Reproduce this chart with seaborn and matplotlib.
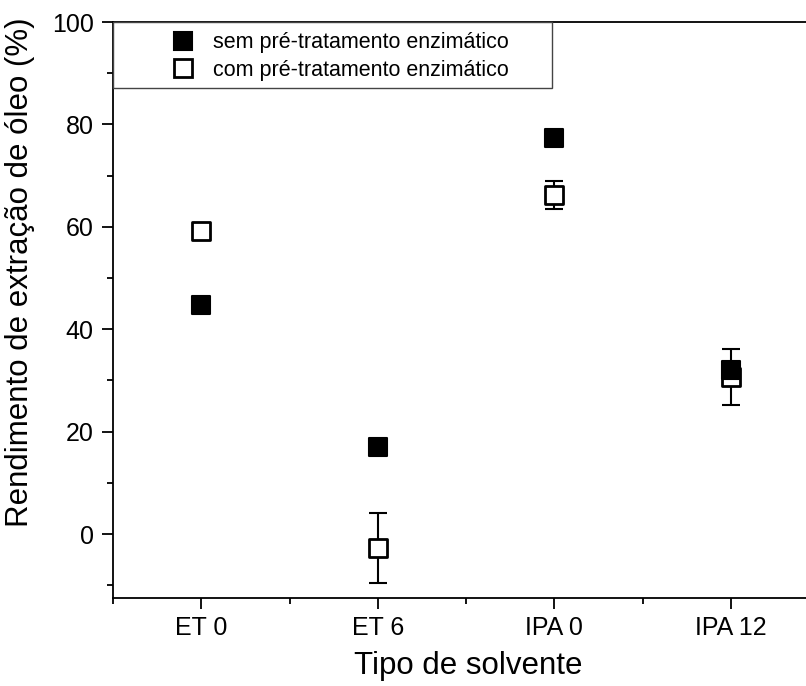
import numpy as np
import pandas as pd
import matplotlib
matplotlib.use("Agg")
import matplotlib.pyplot as plt
import seaborn as sns
from matplotlib.lines import Line2D
from matplotlib.patches import Rectangle
from matplotlib.ticker import MultipleLocator

# Oil extraction yield (%) per solvent, without / with enzymatic pre-treatment
solvents = ["ET 0", "ET 6", "IPA 0", "IPA 12"]
sem_mean = [44.8, 16.9, 77.3, 32.0]
sem_err = [0.8, 0.8, 1.5, 1.0]
com_mean = [59.2, -2.7, 66.2, 30.6]
com_err = [0.5, 6.8, 2.8, 5.5]
series_labels = ["sem pré-tratamento enzimático", "com pré-tratamento enzimático"]

sns.set_style("ticks")
plt.rcParams["font.family"] = ["Liberation Sans", "DejaVu Sans"]
plt.rcParams["axes.linewidth"] = 1.3
plt.rcParams["text.color"] = "black"
plt.rcParams["axes.labelcolor"] = "black"
plt.rcParams["xtick.color"] = "black"
plt.rcParams["ytick.color"] = "black"

df = pd.DataFrame({
    "solvente": solvents * 2,
    "rendimento": sem_mean + com_mean,
    "erro": sem_err + com_err,
    "tratamento": [series_labels[0]] * 4 + [series_labels[1]] * 4,
})
sem = df[df["tratamento"] == series_labels[0]]
com = df[df["tratamento"] == series_labels[1]]

W, H = 806, 686
fig = plt.figure(figsize=(W / 100, H / 100), dpi=100)
ax = fig.add_axes([113 / W, 88 / H, 706 / W, 576 / H])

xpos = np.arange(len(solvents))
msize = 13 ** 2

# with pre-treatment: open squares with error bars
ax.errorbar(xpos, com["rendimento"], yerr=com["erro"], fmt="none",
            ecolor="black", elinewidth=1.5, capsize=6.5, capthick=1.5, zorder=1.5)
sns.scatterplot(data=com, x="solvente", y="rendimento", marker="s", s=msize,
                color="white", edgecolor="black", linewidth=2.0,
                legend=False, zorder=2, ax=ax)

# without pre-treatment: filled squares drawn on top
ax.errorbar(xpos, sem["rendimento"], yerr=sem["erro"], fmt="none",
            ecolor="black", elinewidth=1.5, capsize=6.5, capthick=1.5, zorder=2.5)
sns.scatterplot(data=sem, x="solvente", y="rendimento", marker="s", s=msize,
                color="black", edgecolor="black", linewidth=1.5,
                legend=False, zorder=3, ax=ax)

ax.set_xlim(-0.5, 3.5)
ax.set_ylim(-12.5, 100)
ax.set_xticks(xpos)
ax.set_xticklabels(solvents)
ax.set_xticks([-0.5, 0.5, 1.5, 2.5, 3.5], minor=True)
ax.yaxis.set_major_locator(MultipleLocator(20))
ax.yaxis.set_minor_locator(MultipleLocator(10))

ax.tick_params(axis="both", which="major", direction="out", length=8, width=1.3,
               labelsize=18, pad=5, colors="black")
ax.tick_params(axis="both", which="minor", direction="out", length=4.5, width=1.3,
               colors="black")
ax.tick_params(axis="y", which="major", pad=6)
ax.spines["right"].set_visible(False)
for s in ("left", "bottom", "top"):
    ax.spines[s].set_color("black")

ax.set_xlabel("Tipo de solvente", fontsize=22.5, color="black")
ax.set_ylabel("Rendimento de extração de óleo (%)", fontsize=22.5, color="black")
ax.xaxis.set_label_coords(0.503, -0.092)
ax.yaxis.set_label_coords(-0.11, 0.566)

# legend box along the top-left corner
handles = [
    Line2D([], [], linestyle="none", marker="s", markersize=13,
           markerfacecolor="black", markeredgecolor="black", markeredgewidth=1.5),
    Line2D([], [], linestyle="none", marker="s", markersize=13,
           markerfacecolor="white", markeredgecolor="black", markeredgewidth=2.0),
]
leg = ax.legend(handles, series_labels, loc="center left",
                bbox_to_anchor=(0.0844, 0.940), frameon=False, fontsize=15.5,
                handlelength=1.0, handletextpad=0.9, labelspacing=0.32,
                borderpad=0, borderaxespad=0)
for t in leg.get_texts():
    t.set_color("black")
ax.add_patch(Rectangle((0, 0.885), 0.622, 0.115, transform=ax.transAxes,
                       fill=False, edgecolor="#444444", linewidth=1.0,
                       clip_on=False, zorder=4))

fig.savefig("out.png", dpi=100)
